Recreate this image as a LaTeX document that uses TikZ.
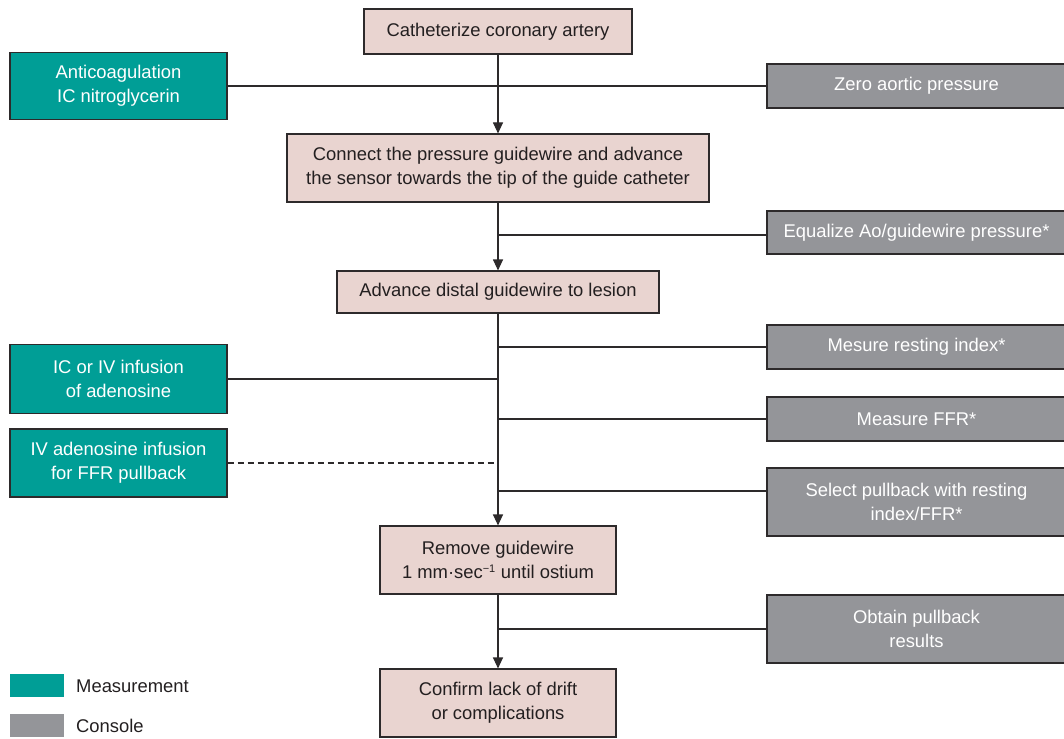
\documentclass[tikz,border=0pt]{standalone}
\usepackage{fontspec}
\setmainfont{Liberation Sans}
\usetikzlibrary{arrows.meta}
\definecolor{pinkfill}{RGB}{233,212,208}
\definecolor{tealfill}{RGB}{0,158,150}
\definecolor{greyfill}{RGB}{148,149,153}
\definecolor{edge}{RGB}{45,42,43}
\definecolor{ink}{RGB}{35,31,32}
\tikzset{
  box/.style={draw=edge, line width=1.1pt, align=center, inner sep=0pt,
    font=\fontsize{18.4}{24}\selectfont},
  stepbox/.style={box, fill=pinkfill, text=ink},
  measbox/.style={box, fill=tealfill, text=white, minimum width=217pt},
  consbox/.style={box, fill=greyfill, text=white, minimum width=299pt},
  conn/.style={draw=edge, line width=1.1pt},
  arr/.style={conn, -{Triangle[width=10pt,length=11pt]}},
  legtext/.style={font=\fontsize{18.4}{24}\selectfont, text=ink, anchor=west, inner sep=0pt}
}
\begin{document}
\begin{tikzpicture}[x=1pt,y=-1pt]
\useasboundingbox (0,0) rectangle (1064,738);
% main steps
\node[stepbox, minimum width=268pt, minimum height=45pt] (cath) at (498,31.5) {Catheterize coronary artery};
\node[stepbox, minimum width=422pt, minimum height=68pt] (connect) at (498,168) {Connect the pressure guidewire and advance\\the sensor towards the tip of the guide catheter};
\node[stepbox, minimum width=322pt, minimum height=42pt] (adv) at (498,292) {Advance distal guidewire to lesion};
\node[stepbox, minimum width=236pt, minimum height=68pt] (remove) at (498,560) {Remove guidewire\\1 mm·sec\textsuperscript{\fontsize{11}{11}\selectfont −1} until ostium};
\node[stepbox, minimum width=236pt, minimum height=68pt] (confirm) at (498,703) {Confirm lack of drift\\or complications};
% measurement boxes
\node[measbox, minimum height=67pt] (anti) at (118.5,86) {Anticoagulation\\IC nitroglycerin};
\node[measbox, minimum height=69pt] (icv) at (118.5,379) {IC or IV infusion\\of adenosine};
\node[measbox, minimum height=68pt] (ivad) at (118.5,463) {IV adenosine infusion\\for FFR pullback};
% console boxes
\node[consbox, minimum height=44pt] (zero) at (916.5,86) {Zero aortic pressure};
\node[consbox, minimum height=43pt] (equal) at (916.5,232.5) {Equalize Ao/guidewire pressure*};
\node[consbox, minimum height=44pt] (rest) at (916.5,347) {Mesure resting index*};
\node[consbox, minimum height=44pt] (ffr) at (916.5,419) {Measure FFR*};
\node[consbox, minimum height=68pt] (sel) at (916.5,502) {Select pullback with resting\\index/FFR*};
\node[consbox, minimum height=68pt] (obt) at (916.5,629) {Obtain pullback\\results};
% main flow
\draw[arr] (cath.south) -- (connect.north);
\draw[arr] (connect.south) -- (adv.north);
\draw[arr] (adv.south) -- (remove.north);
\draw[arr] (remove.south) -- (confirm.north);
% branches
\coordinate (eqin) at (767,235);
\coordinate (selin) at (767,491);
\draw[conn] (anti.east) -- (zero.west);
\draw[conn] (connect.south |- eqin) -- (eqin);
\draw[conn] (adv.south |- rest.west) -- (rest.west);
\draw[conn] (icv.east) -- (adv.south |- icv.east);
\draw[conn] (adv.south |- ffr.west) -- (ffr.west);
\draw[conn, dashed, dash pattern=on 6pt off 4pt] (ivad.east) -- (adv.south |- ivad.east);
\draw[conn] (adv.south |- selin) -- (selin);
\draw[conn] (remove.south |- obt.west) -- (obt.west);
% legend
\node[fill=tealfill, minimum width=54pt, minimum height=23pt, inner sep=0pt] (legm) at (37,685.5) {};
\node[fill=greyfill, minimum width=54pt, minimum height=23pt, inner sep=0pt] (legc) at (37,725.5) {};
\node[legtext] (legmt) at (76,686) {Measurement};
\node[legtext] (legct) at (76,726) {Console};
\end{tikzpicture}
\end{document}
